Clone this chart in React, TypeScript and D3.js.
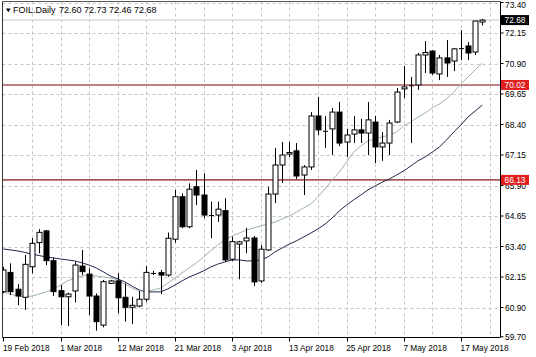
import React from 'react';
import * as d3 from 'd3';

// OHLC data (daily bars, FOIL)
const opens = [61.55,62.34,61.65,61.32,62.57,63.56,64.04,62.82,61.59,61.34,61.58,62.60,62.27,61.37,60.18,61.89,61.99,61.32,60.91,60.96,61.24,62.30,62.33,62.23,63.70,65.44,64.21,65.85,65.51,64.69,64.69,64.87,62.88,63.50,63.63,63.75,61.99,63.26,65.55,66.74,67.19,67.32,66.33,66.66,68.75,68.13,68.22,68.91,67.68,68.01,68.18,68.05,68.50,67.48,67.64,68.50,69.86,69.98,70.02,71.25,71.41,70.47,71.13,71.00,71.50,71.62,71.37,72.60];
const highs = [62.57,62.71,61.86,63.05,63.74,64.11,64.08,62.96,61.82,61.51,62.78,63.26,62.51,61.48,62.03,62.03,62.30,61.89,61.34,61.58,62.60,62.40,62.44,63.97,65.72,65.58,65.99,66.54,66.40,65.24,65.24,65.38,63.80,63.63,64.16,63.83,63.46,65.84,67.44,67.68,67.68,67.64,66.74,68.91,69.53,68.75,69.08,69.32,68.22,68.75,68.63,69.32,68.75,68.09,68.59,69.90,70.80,70.35,71.33,71.82,71.45,71.25,71.86,71.54,72.27,71.78,72.64,72.73];
const lows = [61.48,61.41,61.00,60.80,62.30,63.12,62.64,61.37,60.18,60.14,61.11,62.23,60.59,59.95,60.09,61.86,60.66,60.32,60.22,60.91,61.14,62.23,61.45,62.16,63.56,64.15,64.15,65.10,64.56,63.74,64.41,62.78,62.81,62.06,63.13,61.78,61.91,63.22,65.18,66.00,67.07,66.17,65.51,66.54,67.97,67.44,67.15,67.52,67.07,67.64,67.64,67.15,66.82,66.91,67.15,68.46,69.49,67.64,69.82,70.51,70.43,70.22,70.35,70.59,71.04,71.04,71.25,72.46];
const closes = [62.44,61.55,61.37,62.67,63.53,63.98,62.82,61.55,61.34,61.45,62.64,62.37,61.37,60.32,61.96,61.99,61.30,60.91,60.99,61.24,62.34,62.29,62.23,63.74,65.44,64.21,65.75,65.51,64.69,64.65,64.93,62.85,63.60,63.59,63.75,61.95,63.29,65.55,66.74,67.15,67.25,66.29,66.66,68.75,68.18,68.11,68.91,67.64,67.97,68.18,68.05,68.59,67.48,67.64,68.46,69.73,69.94,70.00,71.25,71.35,70.51,71.13,70.92,71.50,71.52,71.33,72.64,72.68];

// Moving averages
const fastMA = [61.54,61.45,61.37,61.33,61.37,61.45,61.54,61.66,61.82,61.99,62.11,62.19,62.23,62.19,62.15,62.11,62.03,61.86,61.70,61.58,61.58,61.62,61.70,61.90,62.11,62.32,62.52,62.73,62.97,63.22,63.46,63.67,63.83,63.95,64.08,64.16,64.24,64.32,64.40,64.53,64.65,64.81,64.98,65.14,65.43,65.76,66.13,66.45,66.86,67.27,67.52,67.73,67.81,67.89,67.97,68.09,68.34,68.50,68.71,68.87,69.08,69.24,69.45,69.73,70.06,70.35,70.64,70.92];
const slowMA = [63.30,63.26,63.22,63.16,63.09,63.03,62.97,62.93,62.89,62.85,62.81,62.73,62.64,62.52,62.36,62.19,62.07,61.95,61.78,61.62,61.54,61.54,61.54,61.66,61.82,61.99,62.15,62.27,62.40,62.56,62.68,62.77,62.85,62.85,62.81,62.81,62.85,62.97,63.18,63.34,63.50,63.63,63.79,63.95,64.12,64.32,64.57,64.86,65.10,65.31,65.51,65.72,65.88,66.04,66.17,66.33,66.50,66.70,66.91,67.07,67.27,67.48,67.77,68.09,68.38,68.71,68.95,69.20];

const priceTicks = [73.40,72.15,70.90,69.65,68.40,67.15,65.90,64.65,63.40,62.15,60.90,59.70];
const dateTickBars = [0,8,16,24,32,40,48,56,64];
const dateTickLabels = ['19 Feb 2018','1 Mar 2018','12 Mar 2018','21 Mar 2018','3 Apr 2018','13 Apr 2018','25 Apr 2018','7 May 2018','17 May 2018'];
const levelLines = [70.02, 66.13];
const lastPrice = 72.68;
const symbolLabel = 'FOIL.Daily';
const ohlcLabel = '72.60 72.73 72.46 72.68';

export default function App() {
  const W = 536, H = 357;
  const L = 2.5, T = 1.5, R = 500.5, B = 337.5;
  const x = d3.scaleLinear().domain([0, 67]).range([3.3, 482.35]);
  const y = d3.scaleLinear().domain([59.70, 73.40]).range([336.8, 2.5]);
  const mkLine = d3.line<number>().x((_, i) => x(i)).y(d => y(d));
  const font = 'Liberation Sans, Arial, sans-serif';
  const fmt = d3.format('.2f');
  const bw = 5;
  const vGrid = d3.range(4, 69, 4);

  return (
    <svg width={W} height={H} style={{ position: 'absolute', left: 0, top: 0, background: '#fff' }}>
      <defs>
        <clipPath id="plot">
          <rect x={L} y={T} width={R - L} height={B - T} />
        </clipPath>
      </defs>
      <rect x={0} y={0} width={W} height={H} fill="#fff" />
      <g clipPath="url(#plot)">
        {priceTicks.map((p, k) => (
          <line key={'h' + k} x1={L} x2={R} y1={Math.round(y(p)) + 0.5} y2={Math.round(y(p)) + 0.5} stroke="#c4c4c4" strokeDasharray="3,3" />
        ))}
        {vGrid.map((i) => (
          <line key={'v' + i} x1={Math.round(x(i)) + 0.5} x2={Math.round(x(i)) + 0.5} y1={T} y2={B} stroke="#c4c4c4" strokeDasharray="3,3" />
        ))}
        <line x1={L} x2={R} y1={y(lastPrice)} y2={y(lastPrice)} stroke="#c8c8c8" strokeWidth={1} />
        {levelLines.map((p, k) => (
          <line key={'lv' + k} x1={L} x2={R} y1={y(p)} y2={y(p)} stroke="#a85858" strokeWidth={1.6} />
        ))}
        <path d={mkLine(slowMA) || ''} fill="none" stroke="#24244a" strokeWidth={1} />
        <path d={mkLine(fastMA) || ''} fill="none" stroke="#9db3a8" strokeWidth={1} />
        {opens.map((o, i) => {
          const c = closes[i];
          const cx = Math.round(x(i)) + 0.5;
          const top = y(Math.max(o, c));
          const bot = y(Math.min(o, c));
          const bull = c >= o;
          return (
            <g key={'c' + i}>
              <line x1={cx} x2={cx} y1={y(highs[i])} y2={y(lows[i])} stroke="#000" strokeWidth={1} />
              {bot - top < 1.2 ? (
                <line x1={cx - bw / 2} x2={cx + bw / 2} y1={(top + bot) / 2} y2={(top + bot) / 2} stroke="#000" strokeWidth={1} />
              ) : (
                <rect x={cx - bw / 2} y={top} width={bw} height={bot - top} fill={bull ? '#fff' : '#000'} stroke="#000" strokeWidth={1} />
              )}
            </g>
          );
        })}
      </g>
      {/* frame */}
      <line x1={L} x2={L} y1={T} y2={B} stroke="#333" />
      <line x1={L} x2={R} y1={T} y2={T} stroke="#555" />
      <line x1={R} x2={R} y1={T} y2={B} stroke="#000" />
      <line x1={L} x2={R} y1={B} y2={B} stroke="#000" />
      {/* price axis */}
      {priceTicks.map((p, k) => (
        <g key={'pt' + k}>
          <line x1={R} x2={R + 3} y1={y(p)} y2={y(p)} stroke="#000" />
          <text x={505} y={Math.max(y(p) + 3.2, 7.6)} fontSize={8.4} fontFamily={font} fill="#000">{fmt(p)}</text>
        </g>
      ))}
      {levelLines.map((p, k) => (
        <g key={'lb' + k}>
          <rect x={501} y={y(p) - 5} width={28} height={10} fill="#e01e1e" />
          <text x={504.5} y={y(p) + 3.2} fontSize={8.4} fontFamily={font} fill="#fff">{fmt(p)}</text>
        </g>
      ))}
      <rect x={501} y={y(lastPrice) - 5} width={28} height={10} fill="#000" />
      <text x={504.5} y={y(lastPrice) + 3.2} fontSize={8.4} fontFamily={font} fill="#fff">{fmt(lastPrice)}</text>
      {/* time axis */}
      {dateTickBars.map((i, k) => (
        <g key={'dt' + k}>
          <line x1={Math.round(x(i)) + 0.5} x2={Math.round(x(i)) + 0.5} y1={B} y2={B + 4} stroke="#000" />
          <text x={x(i) - 0.3} y={350.5} fontSize={8.3} fontFamily={font} fill="#000">{dateTickLabels[k]}</text>
        </g>
      ))}
      {/* title */}
      <path d="M6,8.5 L10.6,8.5 L8.3,12.3 Z" fill="#000" />
      <text x={13} y={12.7} fontSize={9} fontFamily={font} fill="#000">{symbolLabel}</text>
      <text x={59} y={12.7} fontSize={9} fontFamily={font} fill="#000">{ohlcLabel}</text>
    </svg>
  );
}
